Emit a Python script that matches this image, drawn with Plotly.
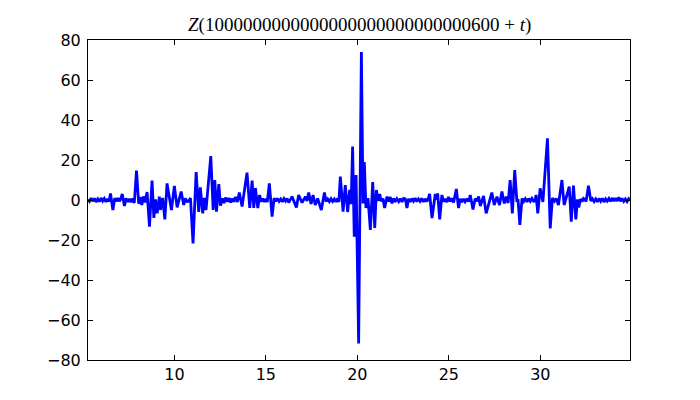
import plotly.graph_objects as go

# t offsets and Z values (extrema and small wiggles)
t_values = [
    5.28, 5.36, 5.45, 5.54, 5.63, 5.72, 5.81, 5.90, 5.99, 6.08, 6.17, 6.26, 6.35, 6.43,
    6.51, 6.64, 6.74, 6.83, 6.92, 7.00, 7.07, 7.15, 7.27, 7.36, 7.45, 7.54, 7.63, 7.72,
    7.81, 7.93, 8.05, 8.13, 8.22, 8.31, 8.40, 8.51, 8.64, 8.78, 8.88, 8.97, 9.06, 9.13,
    9.18, 9.24, 9.36, 9.48, 9.60, 9.84, 10.00, 10.15, 10.37, 10.51, 10.60, 10.69, 10.78,
    10.88, 11.02, 11.19, 11.33, 11.42, 11.55, 11.64, 11.73, 11.99, 12.12, 12.21, 12.30,
    12.43, 12.52, 12.62, 12.71, 12.80, 12.89, 12.98, 13.07, 13.16, 13.25, 13.34, 13.44,
    13.55, 13.70, 13.97, 14.12, 14.25, 14.34, 14.43, 14.56, 14.66, 14.74, 14.83, 14.92,
    15.01, 15.08, 15.19, 15.34, 15.45, 15.54, 15.63, 15.72, 15.81, 15.90, 15.99, 16.08,
    16.16, 16.25, 16.43, 16.67, 16.79, 16.98, 17.16, 17.25, 17.34, 17.47, 17.58, 17.70,
    17.83, 18.03, 18.20, 18.29, 18.38, 18.47, 18.56, 18.65, 18.74, 18.83, 18.92, 18.99,
    19.07, 19.22, 19.34, 19.47, 19.58, 19.66, 19.74, 19.83, 19.93, 20.07, 20.22, 20.31,
    20.38, 20.47, 20.58, 20.71, 20.84, 20.95, 21.04, 21.13, 21.22, 21.30, 21.40, 21.49,
    21.62, 21.71, 21.80, 21.89, 21.98, 22.07, 22.16, 22.26, 22.35, 22.44, 22.53, 22.62,
    22.71, 22.80, 22.89, 22.98, 23.07, 23.16, 23.25, 23.34, 23.43, 23.52, 23.61, 23.70,
    23.79, 23.87, 23.95, 24.08, 24.26, 24.33, 24.39, 24.50, 24.62, 24.71, 24.80, 24.89,
    24.98, 25.07, 25.17, 25.26, 25.41, 25.53, 25.62, 25.71, 25.80, 25.89, 25.99, 26.08,
    26.17, 26.32, 26.44, 26.53, 26.63, 26.72, 26.90, 27.04, 27.35, 27.48, 27.63, 27.77,
    27.90, 28.03, 28.14, 28.24, 28.35, 28.47, 28.60, 28.72, 28.78, 28.88, 29.00, 29.09,
    29.18, 29.27, 29.36, 29.45, 29.54, 29.63, 29.70, 29.77, 29.86, 29.99, 30.14, 30.39,
    30.54, 30.66, 30.77, 30.87, 30.99, 31.18, 31.30, 31.58, 31.69, 31.81, 31.94, 32.03,
    32.10, 32.20, 32.28, 32.36, 32.43, 32.50, 32.63, 32.76, 32.85, 32.94, 33.03, 33.12,
    33.21, 33.30, 33.39, 33.48, 33.57, 33.66, 33.75, 33.84, 33.93, 34.02, 34.11, 34.20,
    34.29, 34.38, 34.47, 34.56, 34.65, 34.74, 34.83, 34.90,
]
z_values = [
    0.2, -0.7, 0.9, -0.6, 0.8, -1.0, 0.5, -0.8, 1.0, -0.5, 0.7, -0.9, 0.6, -0.8,
    3.3, -5.0, 0.9, -0.7, 1.0, -0.6, 0.4, 3.0, -3.0, 0.8, -0.9, 0.6, -1.1, 0.7,
    -1.5, 14.7, -1.8, 1.5, -2.5, 1.8, -1.2, 4.0, -13.3, 9.7, -9.0, 0.3, -6.7, 0.2,
    1.7, -5.0, 1.0, -9.7, 8.3, -5.0, 7.0, -3.7, 4.2, -2.5, 0.8, -0.7, -0.6,
    1.0, -21.7, 14.0, -6.0, 6.3, -6.7, 1.0, -5.0, 22.0, -5.0, 10.0, -5.8,
    8.0, -2.8, 0.8, -1.5, 1.2, -0.8, 1.0, -1.2, 0.7, -0.9, 1.5, -1.0,
    3.7, -3.3, 13.7, -4.0, 9.7, -4.0, 6.0, -4.0, 2.5, -0.8, 0.7, -0.9,
    0.6, -1.0, 8.3, -8.3, 0.9, -0.6, 0.8, -0.7, 0.5, -0.9, 0.7, -0.5,
    0.8, -1.3, 1.7, -3.7, 2.5, -1.3, 1.7, -0.5, 3.7, -2.0, 2.5, -2.5,
    0.8, -5.0, 3.7, -0.7, 0.5, -0.8, 0.6, -0.7, 0.5, -0.9, 0.8, -1.0,
    11.7, -5.8, 7.5, -6.0, 5.0, -2.0, 26.7, -18.3, 12.5, -71.7, 74.0, -1.7,
    19.0, -4.0, 1.0, -15.0, 9.0, -14.0, 5.0, -0.5, 3.0, -0.6, 0.8, -4.0,
    1.7, -0.8, 1.5, -1.7, 0.8, -0.9, 0.6, -0.8, 0.7, -1.0, 0.8, 0.6,
    -4.0, 0.6, -0.9, 0.7, -0.6, 0.9, -0.8, 0.5, -0.7, 0.8, -0.9, 0.6,
    -0.8, 0.5, 3.0, -9.0, 3.0, 0.2, 3.3, -9.7, 2.5, -0.8, 0.6, -1.0,
    1.5, -0.7, 0.8, -1.2, 5.5, -4.0, 0.6, -1.0, 0.5, -0.9, 0.7, -0.8,
    2.5, -4.7, 0.8, -0.6, 1.7, -3.0, 2.0, -6.7, 3.7, -2.5, 1.7, -2.5,
    4.2, -1.7, 1.7, -1.5, 10.0, -6.7, 15.0, -1.0, 0.5, -12.5, 0.8, -0.7,
    0.6, -0.9, 0.7, -0.6, 0.8, -0.6, -0.5, 2.5, -6.7, 5.8, -1.0, 30.8,
    -14.2, 1.0, -0.6, 0.8, -2.5, 10.0, -2.5, 6.7, -10.8, 7.2, -9.7, 0.3,
    -3.7, 0.5, -0.8, 0.8, 0.3, -0.8, 7.2, -0.5, 0.6, -0.8, 0.5, -0.9,
    0.7, -0.6, 0.8, -1.0, 0.6, -0.5, 0.8, -0.7, 1.0, -0.6, 0.9, -0.5,
    1.3, -0.6, 0.8, -0.7, 0.5, -0.8, 0.6, -0.2,
]

x_ticks = [10, 15, 20, 25, 30]
y_ticks = [-80, -60, -40, -20, 0, 20, 40, 60, 80]
title_text = "<i>Z</i>(1000000000000000000000000000600 + <i>t</i>)"

fig = go.Figure()
fig.add_trace(go.Scatter(
    x=t_values, y=z_values, mode="lines",
    line=dict(color="#0000ff", width=2.8),
    hoverinfo="skip", showlegend=False,
))

axis_common = dict(
    ticks="inside", ticklen=5, tickwidth=1, tickcolor="black",
    showline=True, linecolor="black", linewidth=1, mirror="ticks",
    showgrid=False, zeroline=False,
    tickfont=dict(family="DejaVu Sans", size=16, color="black"),
)

# the page body adds an 8px offset, so margins are shifted to compensate
fig.update_layout(
    width=700, height=400,
    margin=dict(l=80, r=78, t=32, b=48),
    paper_bgcolor="white", plot_bgcolor="white",
    xaxis=dict(range=[5.28, 34.9], tickvals=x_ticks, **axis_common),
    yaxis=dict(range=[-80, 80], tickvals=y_ticks, ticklabelstandoff=3, **axis_common),
    annotations=[dict(
        text=title_text, xref="paper", yref="paper", x=0.5, y=1.0,
        xanchor="center", yanchor="bottom", yshift=2, showarrow=False,
        font=dict(family="Liberation Serif", size=19, color="black"),
    )],
)

fig.write_html("out.html")
